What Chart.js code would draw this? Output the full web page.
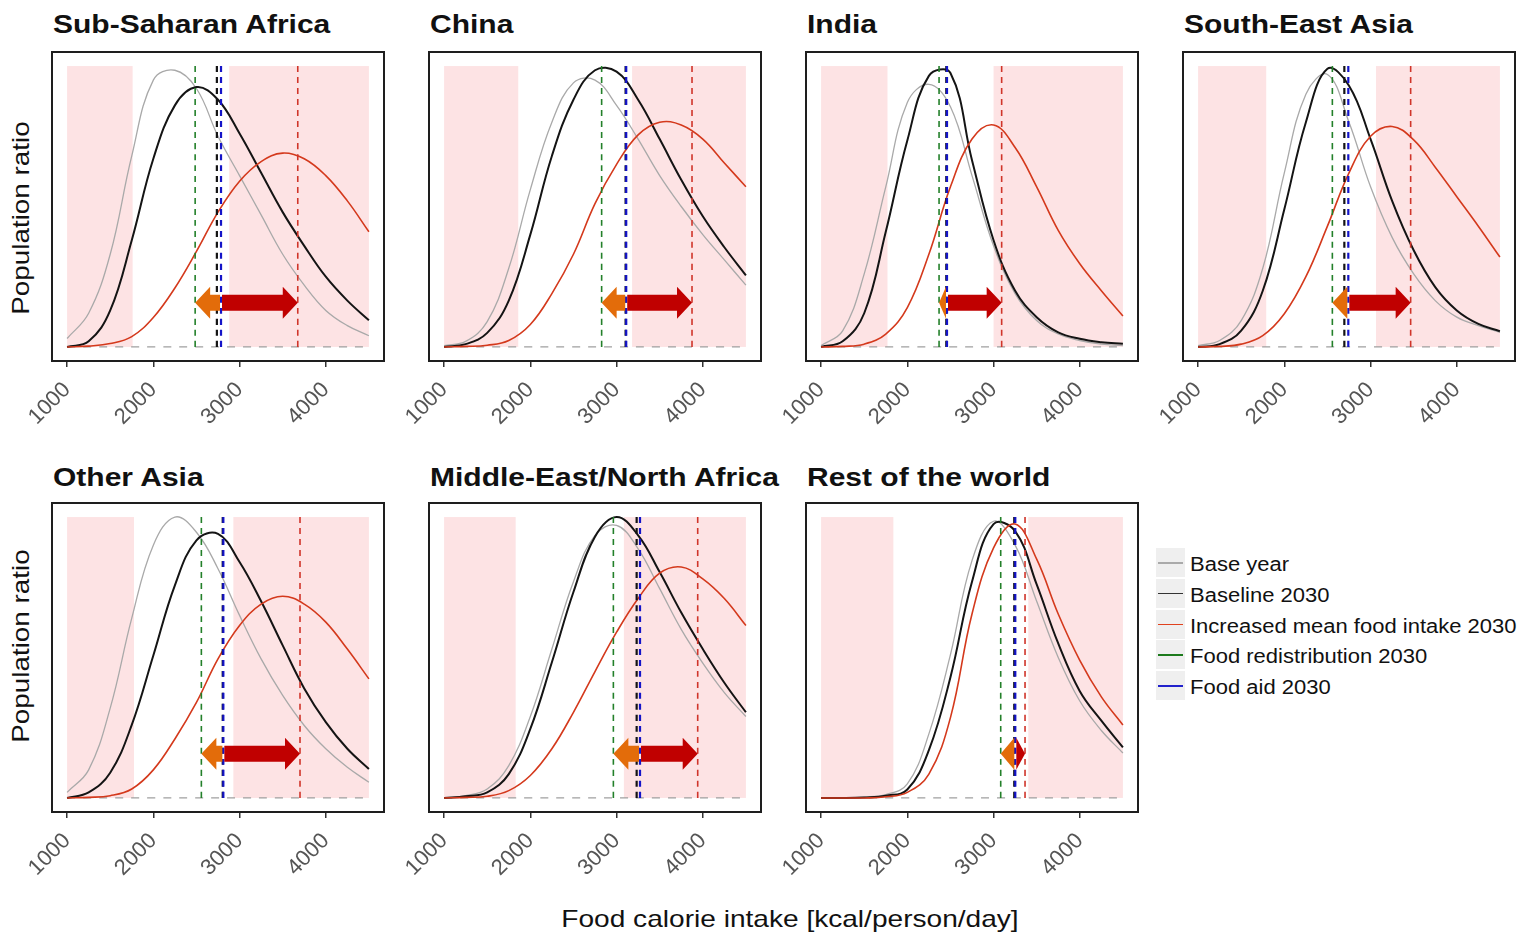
<!DOCTYPE html>
<html><head><meta charset="utf-8">
<script src="https://cdn.jsdelivr.net/npm/chart.js@4.4.1/dist/chart.umd.min.js"></script>
<style>
body{margin:0;background:#fff;width:1517px;height:937px;position:relative;overflow:hidden;font-family:"Liberation Sans",Arial,sans-serif;}
.title{position:absolute;font-weight:bold;font-size:25px;line-height:25px;color:#111;white-space:nowrap;transform:scaleX(1.2);transform-origin:0 50%;}
canvas{position:absolute;}
.ylab{position:absolute;width:300px;height:24px;line-height:24px;font-size:24px;text-align:center;color:#111;transform:rotate(-90deg) scaleX(1.16);white-space:nowrap;}
.xlab{position:absolute;left:490px;width:600px;top:907px;font-size:24px;line-height:24px;text-align:center;color:#111;white-space:nowrap;transform:scaleX(1.17);}
.key{position:absolute;left:1156px;width:29px;height:29px;background:#efefef;}
.key i{position:absolute;left:2px;right:2px;top:14px;height:1.5px;}
.lab{position:absolute;left:1190px;font-size:20px;line-height:20px;color:#111;white-space:nowrap;transform:scaleX(1.1);transform-origin:0 50%;}
</style></head><body>
<script>
// ---------- data ----------
const kcal = [1000,1250,1500,1750,2000,2250,2500,2750,3000,3250,3500,3750,4000,4250,4500];
const xTicks = [1000,2000,3000,4000];
const regions = ["Sub-Saharan Africa","China","India","South-East Asia","Other Asia","Middle-East/North Africa","Rest of the world"];

const ssaBase      = [0.03,0.12,0.33,0.68,0.95,0.985,0.92,0.75,0.61,0.47,0.33,0.22,0.13,0.076,0.04];
const ssaBaseline  = [0.0,0.02,0.13,0.38,0.67,0.86,0.925,0.88,0.76,0.62,0.48,0.36,0.25,0.165,0.095];
const ssaIncreased = [0.0,0.003,0.012,0.037,0.105,0.21,0.34,0.48,0.59,0.66,0.69,0.67,0.61,0.52,0.41];

const chnBase      = [0.005,0.02,0.09,0.28,0.56,0.80,0.94,0.95,0.86,0.74,0.61,0.50,0.40,0.31,0.22];
const chnBaseline  = [0.0,0.01,0.05,0.165,0.40,0.68,0.88,0.985,0.98,0.88,0.74,0.595,0.465,0.355,0.255];
const chnIncreased = [0.0,0.002,0.006,0.023,0.08,0.19,0.33,0.51,0.65,0.755,0.80,0.79,0.74,0.655,0.57];

const indBase      = [0.005,0.057,0.26,0.57,0.87,0.935,0.855,0.61,0.36,0.19,0.094,0.046,0.023,0.01,0.005];
const indBaseline  = [0.0,0.02,0.12,0.41,0.735,0.965,0.975,0.665,0.38,0.20,0.106,0.052,0.029,0.017,0.011];
const indIncreased = [0.0,0.002,0.01,0.046,0.14,0.33,0.57,0.74,0.79,0.71,0.57,0.415,0.296,0.20,0.11];

const seaBase      = [0.005,0.023,0.094,0.28,0.62,0.90,0.97,0.80,0.57,0.39,0.26,0.165,0.106,0.076,0.052];
const seaBaseline  = [0.0,0.01,0.058,0.20,0.49,0.80,0.99,0.93,0.74,0.52,0.344,0.213,0.13,0.082,0.056];
const seaIncreased = [0.0,0.002,0.01,0.04,0.118,0.25,0.43,0.62,0.75,0.785,0.737,0.64,0.535,0.43,0.32];

const oaBase       = [0.02,0.10,0.32,0.64,0.90,1.0,0.946,0.816,0.65,0.495,0.365,0.258,0.175,0.109,0.056];
const oaBaseline   = [0.0,0.02,0.09,0.26,0.507,0.757,0.917,0.94,0.84,0.70,0.543,0.39,0.27,0.175,0.103];
const oaIncreased  = [0.0,0.002,0.008,0.032,0.10,0.21,0.34,0.495,0.614,0.69,0.718,0.69,0.626,0.53,0.424];

const menaBase      = [0.0,0.008,0.032,0.115,0.29,0.53,0.77,0.935,0.97,0.887,0.745,0.60,0.48,0.375,0.29];
const menaBaseline  = [0.0,0.006,0.02,0.085,0.246,0.483,0.733,0.93,1.0,0.935,0.804,0.66,0.53,0.41,0.305];
const menaIncreased = [0.0,0.002,0.006,0.026,0.08,0.175,0.305,0.45,0.59,0.71,0.80,0.822,0.78,0.71,0.614];

const rowBase      = [0.0,0.0,0.003,0.012,0.05,0.228,0.51,0.845,0.985,0.90,0.70,0.50,0.345,0.24,0.16];
const rowBaseline  = [0.0,0.0,0.002,0.008,0.03,0.17,0.43,0.77,0.975,0.95,0.76,0.55,0.38,0.275,0.18];
const rowIncreased = [0.0,0.0,0.0,0.004,0.02,0.085,0.286,0.655,0.89,0.975,0.85,0.655,0.49,0.36,0.26];

// mean lines (kcal/person/day)
const redistributionMean = [2485,2827,2368,2557,2557,2963,3083];
const baselineMean       = [2737,3105,2452,2696,2805,3233,3240];
const foodAidMean        = [2785,3112,2460,2742,2812,3272,3252];
const increasedMean      = [3675,3875,3094,3465,3701,3941,3365];
// shaded ranges
const shadeLowEnd   = [1760,1860,1770,1790,1776,1830,1838];
const shadeHighStart= [2880,3180,3000,3063,2928,3085,3403];
const arrowLevel = 0.157;

const baseSeries      = [ssaBase,chnBase,indBase,seaBase,oaBase,menaBase,rowBase];
const baselineSeries  = [ssaBaseline,chnBaseline,indBaseline,seaBaseline,oaBaseline,menaBaseline,rowBaseline];
const increasedSeries = [ssaIncreased,chnIncreased,indIncreased,seaIncreased,oaIncreased,menaIncreased,rowIncreased];

// ---------- layout ----------
const boxLeft = [52,429,806,1183,52,429,806];
const boxTop  = [52,52,52,52,503,503,503];
const BOXW = 332, BOXH = 309, PADL = 60, PADT = 2, PADR = 2, XH = 80;

const COL = {grey:'#a9a9a9', black:'#141414', red:'#d4391c', green:'#23802a', blue:'#1414c8', redLine:'#d0352a', pink:'#fde3e4', orange:'#e36c0a', arrowRed:'#c00000'};

regions.forEach((r,i)=>{
  const d=document.createElement('div'); d.className='title'; d.textContent=r;
  d.style.left=(boxLeft[i]+1)+'px'; d.style.top=(i<4?12:465)+'px'; document.body.appendChild(d);
});
[218,646].forEach(cy=>{
  const d=document.createElement('div'); d.className='ylab'; d.textContent='Population ratio';
  d.style.left=(21-150)+'px'; d.style.top=(cy-12)+'px'; document.body.appendChild(d);
});
const xl=document.createElement('div'); xl.className='xlab'; xl.textContent='Food calorie intake [kcal/person/day]'; document.body.appendChild(xl);

const legendItems = [['Base year','#aaaaaa'],['Baseline 2030','#333333'],['Increased mean food intake 2030','#e0421e'],['Food redistribution 2030','#1d7a1d'],['Food aid 2030','#2222cc']];
legendItems.forEach((it,k)=>{
  const top = 548 + k*30.8;
  const key=document.createElement('div'); key.className='key'; key.style.top=top+'px';
  const ln=document.createElement('i'); ln.style.background=it[1]; key.appendChild(ln); document.body.appendChild(key);
  const lb=document.createElement('div'); lb.className='lab'; lb.textContent=it[0]; lb.style.top=(top+6)+'px'; document.body.appendChild(lb);
});

// ---------- plugins ----------
const decor = {
  id:'decor',
  beforeDatasetsDraw(chart){
    const i = chart.options.plugins.decor.idx, ctx = chart.ctx, xs = chart.scales.x, ys = chart.scales.y;
    const yTop = ys.getPixelForValue(1), yBot = ys.getPixelForValue(0);
    ctx.save(); ctx.fillStyle = COL.pink;
    const a = xs.getPixelForValue(kcal[0]), b = xs.getPixelForValue(shadeLowEnd[i]);
    const c = xs.getPixelForValue(shadeHighStart[i]), d = xs.getPixelForValue(kcal[kcal.length-1]);
    ctx.fillRect(a, yTop, b-a, yBot-yTop);
    ctx.fillRect(c, yTop, d-c, yBot-yTop);
    ctx.restore();
  },
  afterDatasetsDraw(chart){
    const i = chart.options.plugins.decor.idx, ctx = chart.ctx, xs = chart.scales.x, ys = chart.scales.y;
    const y = ys.getPixelForValue(arrowLevel);
    const ax = xs.getPixelForValue(foodAidMean[i]);
    drawArrow(ctx, ax-1, xs.getPixelForValue(redistributionMean[i]), y, COL.orange);
    drawArrow(ctx, ax+1, xs.getPixelForValue(increasedMean[i]), y, COL.arrowRed);
  },
  afterDraw(chart){
    const {left,top,width,height} = chart.chartArea, ctx = chart.ctx;
    ctx.save(); ctx.strokeStyle='#1e1e1e'; ctx.lineWidth=2; ctx.strokeRect(left,top,width,height); ctx.restore();
  }
};
function drawArrow(ctx,x0,x1,y,color){
  const dir = Math.sign(x1-x0) || 1, len = Math.abs(x1-x0);
  const head = Math.min(15,len), hx = x1 - dir*head;
  ctx.save(); ctx.fillStyle=color; ctx.beginPath();
  ctx.moveTo(x0,y-8); ctx.lineTo(hx,y-8); ctx.lineTo(hx,y-16); ctx.lineTo(x1,y);
  ctx.lineTo(hx,y+16); ctx.lineTo(hx,y+8); ctx.lineTo(x0,y+8); ctx.closePath(); ctx.fill(); ctx.restore();
}

function pts(arr){ return kcal.map((x,k)=>({x:x, y:arr[k]})); }
function vline(v){ return [{x:v,y:0},{x:v,y:1}]; }

for (let i=0;i<7;i++){
  const cv=document.createElement('canvas');
  cv.width=PADL+BOXW+PADR; cv.height=PADT+BOXH+XH;
  cv.style.left=(boxLeft[i]-PADL)+'px'; cv.style.top=(boxTop[i]-PADT)+'px';
  document.body.appendChild(cv);
  const ds = (data,color,w,dash)=>({data, borderColor:color, borderWidth:w, borderDash:dash||[], pointRadius:0, tension:0.4, fill:false});
  new Chart(cv.getContext('2d'),{
    type:'line',
    data:{datasets:[
      ds(vline(redistributionMean[i]),COL.green,1.6,[6,5]),
      ds(vline(increasedMean[i]),COL.redLine,1.6,[6,5]),
      ds(vline(foodAidMean[i]),COL.blue,2.2,[6,5]),
      ds(vline(baselineMean[i]),COL.black,2.2,[6,5]),
      ds(pts(increasedSeries[i]),COL.red,1.6),
      ds(pts(baselineSeries[i]),COL.black,2),
      ds(pts(baseSeries[i]),COL.grey,1.3),
      ds([{x:kcal[0],y:0},{x:kcal[kcal.length-1],y:0}],'#a0a0a0',1.2,[8,8])
    ]},
    options:{
      responsive:false, animation:false, devicePixelRatio:1,
      layout:{padding:{left:PADL,right:PADR,top:PADT,bottom:0}},
      plugins:{legend:{display:false}, tooltip:{enabled:false}, decor:{idx:i}},
      scales:{
        x:{type:'linear', min:825, max:4675,
           afterBuildTicks:s=>{ s.ticks = xTicks.map(v=>({value:v})); },
           afterFit:s=>{ s.height=XH; s.paddingLeft=0; s.paddingRight=0; },
           grid:{drawOnChartArea:false, drawTicks:true, tickLength:6, color:'#333', lineWidth:1.5},
           border:{display:false},
           ticks:{minRotation:45,maxRotation:45,autoSkip:false,padding:10,color:'#555',
                  callback:v=>String(v),
                  font:{family:'"Liberation Sans", Arial, sans-serif',size:22}}
        },
        y:{display:false, min:-0.05, max:1.05}
      }
    },
    plugins:[decor]
  });
}
</script>
</body></html>
